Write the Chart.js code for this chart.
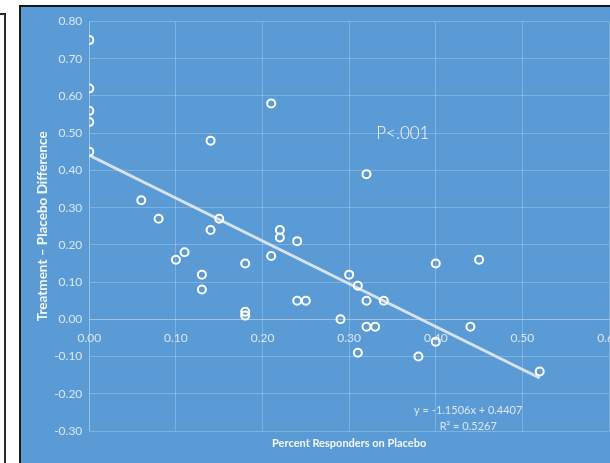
<!DOCTYPE html>
<html>
<head>
<meta charset="utf-8">
<script src="https://cdn.jsdelivr.net/npm/chart.js@4.4.1/dist/chart.umd.min.js"></script>
<style>
  html, body { margin: 0; padding: 0; background: #ffffff; overflow: hidden; width: 610px; height: 463px; }
  #sideFrame { position: absolute; left: -20px; top: 13px; width: 22px; height: 600px; border: 2px solid #2a2a2a; }
  #chartFrame { position: absolute; left: 19px; top: 5px; width: 620px; height: 470px; border: 2px solid #1a1a1a; background: #5b9bd5; }
  #chart { display: block; }
</style>
</head>
<body>
<div id="sideFrame"></div>
<div id="chartFrame"><canvas id="chart" width="620" height="470"></canvas></div>
<script>
// Placebo response rate per trial and the treatment - placebo difference
const placeboRate = [
  0.00, 0.00, 0.00, 0.00, 0.00,
  0.06, 0.08, 0.10, 0.11, 0.13, 0.13,
  0.14, 0.14, 0.15, 0.18, 0.18, 0.18,
  0.21, 0.21, 0.22, 0.22, 0.24, 0.24, 0.25,
  0.29, 0.30, 0.31, 0.31, 0.32, 0.32, 0.32, 0.33, 0.34,
  0.38, 0.40, 0.40, 0.44, 0.45, 0.52
];
const difference = [
  0.75, 0.62, 0.56, 0.53, 0.45,
  0.32, 0.27, 0.16, 0.18, 0.12, 0.08,
  0.48, 0.24, 0.27, 0.15, 0.02, 0.01,
  0.58, 0.17, 0.24, 0.22, 0.21, 0.05, 0.05,
  0.00, 0.12, 0.09, -0.09, 0.39, 0.05, -0.02, -0.02, 0.05,
  -0.10, 0.15, -0.06, -0.02, 0.16, -0.14
];

// Linear fit reported with the chart
const fitSlope = -1.1506;
const fitIntercept = 0.4407;
const fitR2 = 0.5267;

const xTicks = [0.0, 0.1, 0.2, 0.3, 0.4, 0.5, 0.6];
const yTicks = [-0.3, -0.2, -0.1, 0.0, 0.1, 0.2, 0.3, 0.4, 0.5, 0.6, 0.7, 0.8];

const xTitle = 'Percent Responders on Placebo';
const yTitle = 'Treatment \u2013 Placebo Difference';
const pText = 'P<.001';
const eqText = 'y = ' + fitSlope.toFixed(4) + 'x + ' + fitIntercept.toFixed(4);
const r2Text = 'R\u00b2 = ' + fitR2.toFixed(4);

const points = placeboRate.map((x, i) => ({ x: x, y: difference[i] }));
const xMax = Math.max(...placeboRate);
const fitLine = [0, xMax].map(x => ({ x: x, y: fitSlope * x + fitIntercept }));

const FONT = 'Lato, "Open Sans", "DejaVu Sans", sans-serif';
const tickColor = '#d9e6f4';
const gridColor = 'rgba(255,255,255,0.22)';

// Axis titles and text annotations drawn in data space
const annotations = {
  id: 'annotations',
  afterDraw(chart) {
    const { ctx, chartArea, scales } = chart;
    const xs = scales.x, ys = scales.y;
    ctx.save();
    ctx.fillStyle = 'rgba(255,255,255,0.92)';
    ctx.textAlign = 'center';
    ctx.textBaseline = 'middle';
    ctx.font = 'bold 11px ' + FONT;
    ctx.fillText(xTitle, (chartArea.left + chartArea.right) / 2, chartArea.bottom + 12);
    ctx.save();
    ctx.font = 'bold 13.5px ' + FONT;
    ctx.translate(22, (chartArea.top + chartArea.bottom) / 2);
    ctx.rotate(-Math.PI / 2);
    ctx.fillText(yTitle, 0, 0);
    ctx.restore();

    ctx.fillStyle = 'rgba(255,255,255,0.95)';
    ctx.font = '300 17px ' + FONT;
    ctx.fillText(pText, xs.getPixelForValue(0.362), ys.getPixelForValue(0.50));

    ctx.fillStyle = tickColor;
    ctx.font = '11px ' + FONT;
    ctx.fillText(eqText, xs.getPixelForValue(0.4375), ys.getPixelForValue(-0.244));
    ctx.fillText(r2Text, xs.getPixelForValue(0.4375), ys.getPixelForValue(-0.288));
    ctx.restore();
  }
};

new Chart(document.getElementById('chart'), {
  type: 'scatter',
  data: {
    datasets: [
      {
        label: 'Fit',
        type: 'line',
        data: fitLine,
        borderColor: 'rgba(228,234,241,0.9)',
        borderWidth: 3,
        pointRadius: 0,
        fill: false,
        order: 2
      },
      {
        label: 'Trials',
        data: points,
        pointStyle: 'circle',
        pointRadius: 4,
        pointBorderWidth: 2,
        pointBorderColor: '#ffffff',
        pointBackgroundColor: 'rgba(0,0,0,0)',
        order: 1
      }
    ]
  },
  options: {
    responsive: false,
    animation: false,
    devicePixelRatio: 1,
    layout: { padding: { left: 0, top: 14.5, right: 32, bottom: 46 } },
    plugins: { legend: { display: false }, tooltip: { enabled: false } },
    scales: {
      x: {
        type: 'linear',
        position: { y: 0 },
        min: 0, max: 0.6,
        afterBuildTicks(scale) { scale.ticks = xTicks.map(v => ({ value: v })); },
        afterFit(scale) { scale.height = 0; },
        grid: { color: gridColor, lineWidth: 1, drawTicks: false },
        border: { display: true, color: gridColor },
        ticks: {
          padding: 12,
          color: tickColor,
          font: { family: FONT, size: 12 },
          maxRotation: 0,
          callback: v => Number(v).toFixed(2)
        }
      },
      y: {
        type: 'linear',
        min: -0.3, max: 0.8,
        afterBuildTicks(scale) { scale.ticks = yTicks.map(v => ({ value: v })); },
        afterFit(scale) { scale.width = 68.3; },
        grid: { color: gridColor, lineWidth: 1, drawTicks: false },
        border: { display: true, color: gridColor },
        ticks: {
          padding: 7,
          color: tickColor,
          font: { family: FONT, size: 12 },
          callback: v => Number(v).toFixed(2)
        }
      }
    }
  },
  plugins: [annotations]
});
</script>
</body>
</html>
